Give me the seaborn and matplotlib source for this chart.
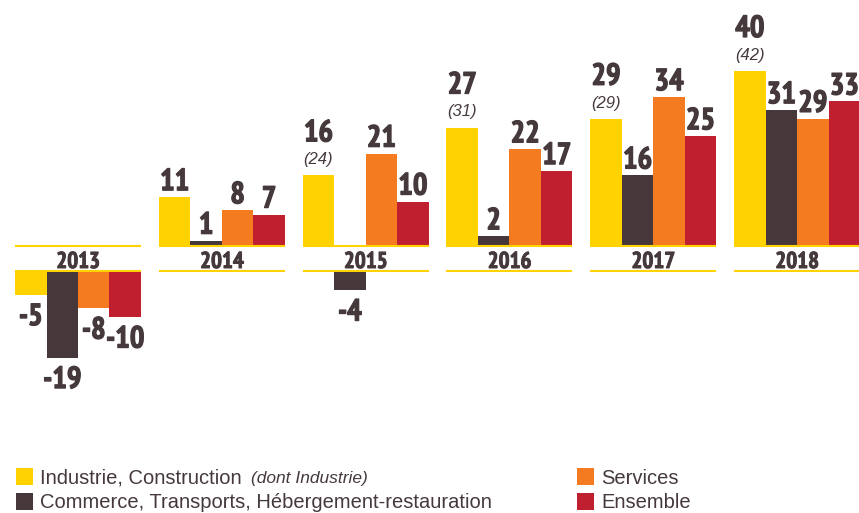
import matplotlib
matplotlib.use("Agg")
import matplotlib.pyplot as plt
import matplotlib.transforms as mtransforms
import matplotlib.patheffects as pe
from matplotlib import font_manager
from matplotlib.patches import Rectangle
import seaborn as sns
import pandas as pd

annees = ["2013", "2014", "2015", "2016", "2017", "2018"]
series = ["Industrie, Construction", "Commerce, Transports, Hébergement-restauration",
          "Services", "Ensemble"]
industrie_construction = [-5, 11, 16, 27, 29, 40]
commerce_transports = [-19, 1, -4, 2, 16, 31]
services = [-8, 8, 21, 22, 34, 29]
ensemble = [-10, 7, 10, 17, 25, 33]
dont_industrie = [None, None, 24, 31, 29, 42]

couleurs = ["#FFD200", "#45373A", "#F47B20", "#C01F2F"]
texte = "#45393B"


# police étroite et grasse pour les chiffres (selon ce qui est installé)
def police_etroite():
    fonts = font_manager.fontManager.ttflist
    essais = [
        lambda f: "narrow" in f.name.lower() and f.weight in (700, "bold") and f.style == "normal",
        lambda f: "condensed" in f.name.lower() and f.weight in (700, "bold") and f.style == "normal",
        lambda f: f.stretch in ("condensed", "semi-condensed") and f.weight in (700, "bold")
        and f.style == "normal",
    ]
    for test in essais:
        for f in fonts:
            if test(f):
                return font_manager.FontProperties(fname=f.fname)
    return font_manager.FontProperties(family="DejaVu Sans", weight="bold", stretch="condensed")


fp_chiffres = police_etroite()
epais = [pe.withStroke(linewidth=0.9, foreground=texte)]

valeurs = [industrie_construction, commerce_transports, services, ensemble]
df = pd.DataFrame({
    "annee": annees * len(series),
    "serie": [s for s in series for _ in annees],
    "valeur": [v for vals in valeurs for v in vals],
})
df["pos"] = df["valeur"].clip(lower=0)
df["neg"] = df["valeur"].clip(upper=0)

sns.set_style("white")
W, H = 859, 513
fig = plt.figure(figsize=(W / 100, H / 100), dpi=100)


def rect_px(x0, y0, x1, y1):
    return [x0 / W, 1 - y1 / H, (x1 - x0) / W, (y1 - y0) / H]


ax_pos = fig.add_axes(rect_px(0, 0, W, 245))
ax_neg = fig.add_axes(rect_px(0, 272, W, 420))

largeur = 0.876
for ax, col in [(ax_pos, "pos"), (ax_neg, "neg")]:
    sns.barplot(data=df, x="annee", y=col, hue="serie", hue_order=series,
                palette=couleurs, width=largeur, saturation=1, linewidth=0,
                errorbar=None, legend=False, ax=ax)
    ax.set_xlim(-0.5424, 5.431)
    ax.axis("off")
ax_pos.set_ylim(0, 245 / 4.35)
ax_neg.set_ylim(-148 / 4.5, 0)

gros = fp_chiffres.copy()
gros.set_size(22)
moyen = fp_chiffres.copy()
moyen.set_size(16.5)

# valeurs au-dessus / au-dessous des barres
for ax in (ax_pos, ax_neg):
    for j, cont in enumerate(ax.containers):
        for bar in cont:
            cx = bar.get_x() + bar.get_width() / 2
            i = int(round(cx))
            v = valeurs[j][i]
            h = bar.get_height()
            if ax is ax_pos and v > 0:
                off = 5
                if j == 0 and dont_industrie[i] is not None:
                    ax.annotate(f"({dont_industrie[i]})", (cx, h), xytext=(0, 8),
                                textcoords="offset points", ha="center", va="baseline",
                                fontsize=12, style="italic", color=texte,
                                family="Liberation Sans")
                    off = 24.5
                ax.annotate(f"{v}", (cx, h), xytext=(0, off), textcoords="offset points",
                            ha="center", va="baseline", fontproperties=gros, color=texte,
                            path_effects=epais)
            elif ax is ax_neg and v < 0:
                ax.annotate(f"-{abs(v)}", (cx, h), xytext=(0, -22),
                            textcoords="offset points", ha="center", va="baseline",
                            fontproperties=gros, color=texte, path_effects=epais)

# cartouches des années
trans = mtransforms.blended_transform_factory(ax_pos.transData, fig.transFigure)
for i, an in enumerate(annees):
    x0, x1 = i - largeur / 2, i + largeur / 2
    for ypx in (245.5, 271):
        ax_pos.plot([x0, x1], [1 - ypx / H] * 2, color=couleurs[0], lw=1.5,
                    transform=trans, clip_on=False, solid_capstyle="butt", zorder=5)
    ax_pos.text(i, 1 - 268 / H, an, transform=trans, ha="center", va="baseline",
                fontproperties=moyen, color=texte,
                path_effects=[pe.withStroke(linewidth=0.7, foreground=texte)])

# légende
legende = [(16, 485, 40, 483.5, series[0], couleurs[0]),
           (16, 510, 40, 508, series[1], couleurs[1]),
           (577, 485, 601, 483.5, series[2], couleurs[2]),
           (577, 510, 601, 508, series[3], couleurs[3])]
textes = []
for sx, sy, tx, ty, lab, c in legende:
    fig.add_artist(Rectangle((sx / W, 1 - sy / H), 17 / W, 17 / H,
                             transform=fig.transFigure, color=c, lw=0))
    t = fig.text(tx / W, 1 - ty / H, lab, ha="left", va="baseline", fontsize=14.5,
                 color=texte, family="Liberation Sans")
    textes.append(t)

fig.canvas.draw()
bb = textes[0].get_window_extent()
fig.text((bb.x1 + 9) / W, 1 - 483.5 / H, "(dont Industrie)", ha="left", va="baseline",
         fontsize=12.5, style="italic", color=texte, family="Liberation Sans")

fig.savefig("out.png", dpi=100)
